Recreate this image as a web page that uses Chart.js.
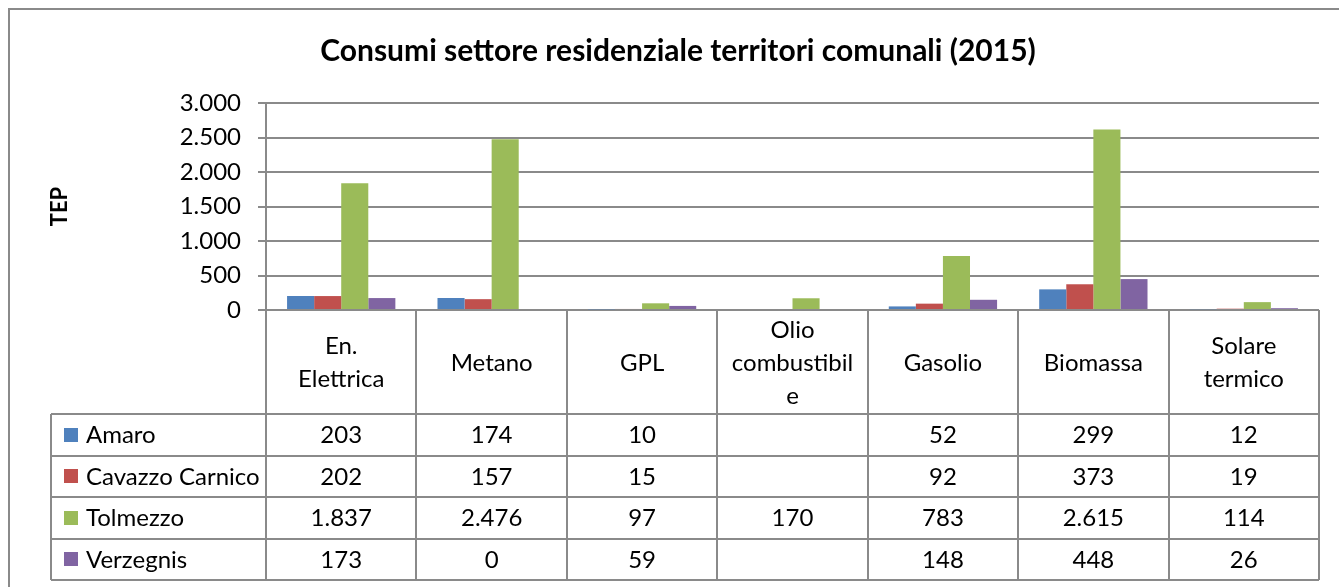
<!DOCTYPE html>
<html><head><meta charset="utf-8">
<script src="https://cdn.jsdelivr.net/npm/chart.js@4"></script>
<style>html,body{margin:0;padding:0;background:#fff;overflow:hidden;}#wrap{width:1339px;height:587px;position:relative;}</style>
</head><body><div id="wrap"><canvas id="c" width="1339" height="587"></canvas></div>
<script>
const chartTitle = "Consumi settore residenziale territori comunali (2015)";
const yAxisTitle = "TEP";
const categories = ["En. Elettrica","Metano","GPL","Olio combustibile","Gasolio","Biomassa","Solare termico"];
const categoryLines = [["En.","Elettrica"],["Metano"],["GPL"],["Olio","combustibil","e"],["Gasolio"],["Biomassa"],["Solare","termico"]];
const seriesNames = ["Amaro","Cavazzo Carnico","Tolmezzo","Verzegnis"];
const amaro = [203,174,10,null,52,299,12];
const cavazzoCarnico = [202,157,15,null,92,373,19];
const tolmezzo = [1837,2476,97,170,783,2615,114];
const verzegnis = [173,0,59,null,148,448,26];
const seriesColors = ["#4F81BD","#C0504D","#9BBB59","#8064A2"];
const yMin = 0, yMax = 3000, yStep = 500;

const FONT = "Lato, 'Open Sans', sans-serif";
const LINE = "#8a8a8a";
function fmt(n){ return String(n).replace(/\B(?=(\d{3})+(?!\d))/g,"."); }

const seriesData = [amaro, cavazzoCarnico, tolmezzo, verzegnis];

const tablePlugin = {
  id: "dataTable",
  afterDraw(chart){
    const ctx = chart.ctx;
    const xs = chart.scales.x;
    const area = chart.chartArea;
    const n = categories.length;
    const colW = (xs.right - xs.left) / n;
    const top = area.bottom;
    const headerH = 104;
    const rowH = 41.5;
    const legendLeft = 51;
    const tableBottom = top + headerH + rowH * seriesNames.length;
    ctx.save();
    ctx.strokeStyle = LINE;
    ctx.lineWidth = 2;
    ctx.strokeRect(9, 9, 1400, 1400);
    for (let r = 0; r <= seriesNames.length; r++) {
      const y = Math.round(top + headerH + r * rowH);
      ctx.beginPath(); ctx.moveTo(legendLeft, y); ctx.lineTo(xs.right, y); ctx.stroke();
    }
    for (let i = 0; i <= n; i++) {
      const x = Math.round(xs.getPixelForValue(0) - colW/2 + i*colW);
      ctx.beginPath(); ctx.moveTo(x, top); ctx.lineTo(x, tableBottom); ctx.stroke();
    }
    ctx.beginPath(); ctx.moveTo(legendLeft, top + headerH); ctx.lineTo(legendLeft, tableBottom); ctx.stroke();
    ctx.fillStyle = "#000";
    ctx.font = "24px " + FONT;
    ctx.textAlign = "center";
    ctx.textBaseline = "middle";
    const lh = 33;
    categoryLines.forEach((lines, i) => {
      const cx = xs.getPixelForValue(i);
      const cy = top + headerH/2 + 1;
      lines.forEach((t, k) => {
        ctx.fillText(t, cx, cy + (k - (lines.length-1)/2) * lh);
      });
    });
    seriesNames.forEach((name, r) => {
      const cy = top + headerH + r*rowH + rowH/2 + 1;
      ctx.fillStyle = seriesColors[r];
      ctx.fillRect(64, Math.round(cy - 8), 14, 14);
      ctx.fillStyle = "#000";
      ctx.textAlign = "left";
      ctx.fillText(name, 86, cy);
      ctx.textAlign = "center";
      seriesData[r].forEach((v, i) => {
        if (v === null || v === undefined) return;
        ctx.fillText(fmt(v), xs.getPixelForValue(i), cy);
      });
    });
    ctx.restore();
  }
};

new Chart(document.getElementById("c"), {
  type: "bar",
  data: {
    labels: categories,
    datasets: seriesNames.map((name, i) => ({
      label: name,
      data: seriesData[i],
      backgroundColor: seriesColors[i],
      borderWidth: 0,
      categoryPercentage: 0.72,
      barPercentage: 1.0
    }))
  },
  options: {
    responsive: false,
    animation: false,
    devicePixelRatio: 1,
    layout: { padding: { left: 37, right: 20, top: 0, bottom: 277 } },
    plugins: {
      legend: { display: false },
      tooltip: { enabled: false },
      title: {
        display: true,
        text: chartTitle,
        color: "#000",
        font: { family: FONT, size: 30, weight: "bold" },
        padding: { top: 33, bottom: 34 }
      }
    },
    scales: {
      x: { display: false },
      y: {
        min: yMin, max: yMax,
        afterFit(s){ s.width = 229; },
        ticks: {
          stepSize: yStep,
          color: "#000",
          padding: 17,
          font: { family: FONT, size: 24 },
          callback: (v) => fmt(v)
        },
        grid: { color: LINE, lineWidth: 2, tickLength: 8 },
        border: { color: LINE, width: 2 },
        title: {
          display: true,
          text: yAxisTitle,
          color: "#000",
          font: { family: FONT, size: 22, weight: "bold" },
          padding: { top: 10, bottom: 0 }
        }
      }
    }
  },
  plugins: [tablePlugin]
});
</script>
</body></html>
